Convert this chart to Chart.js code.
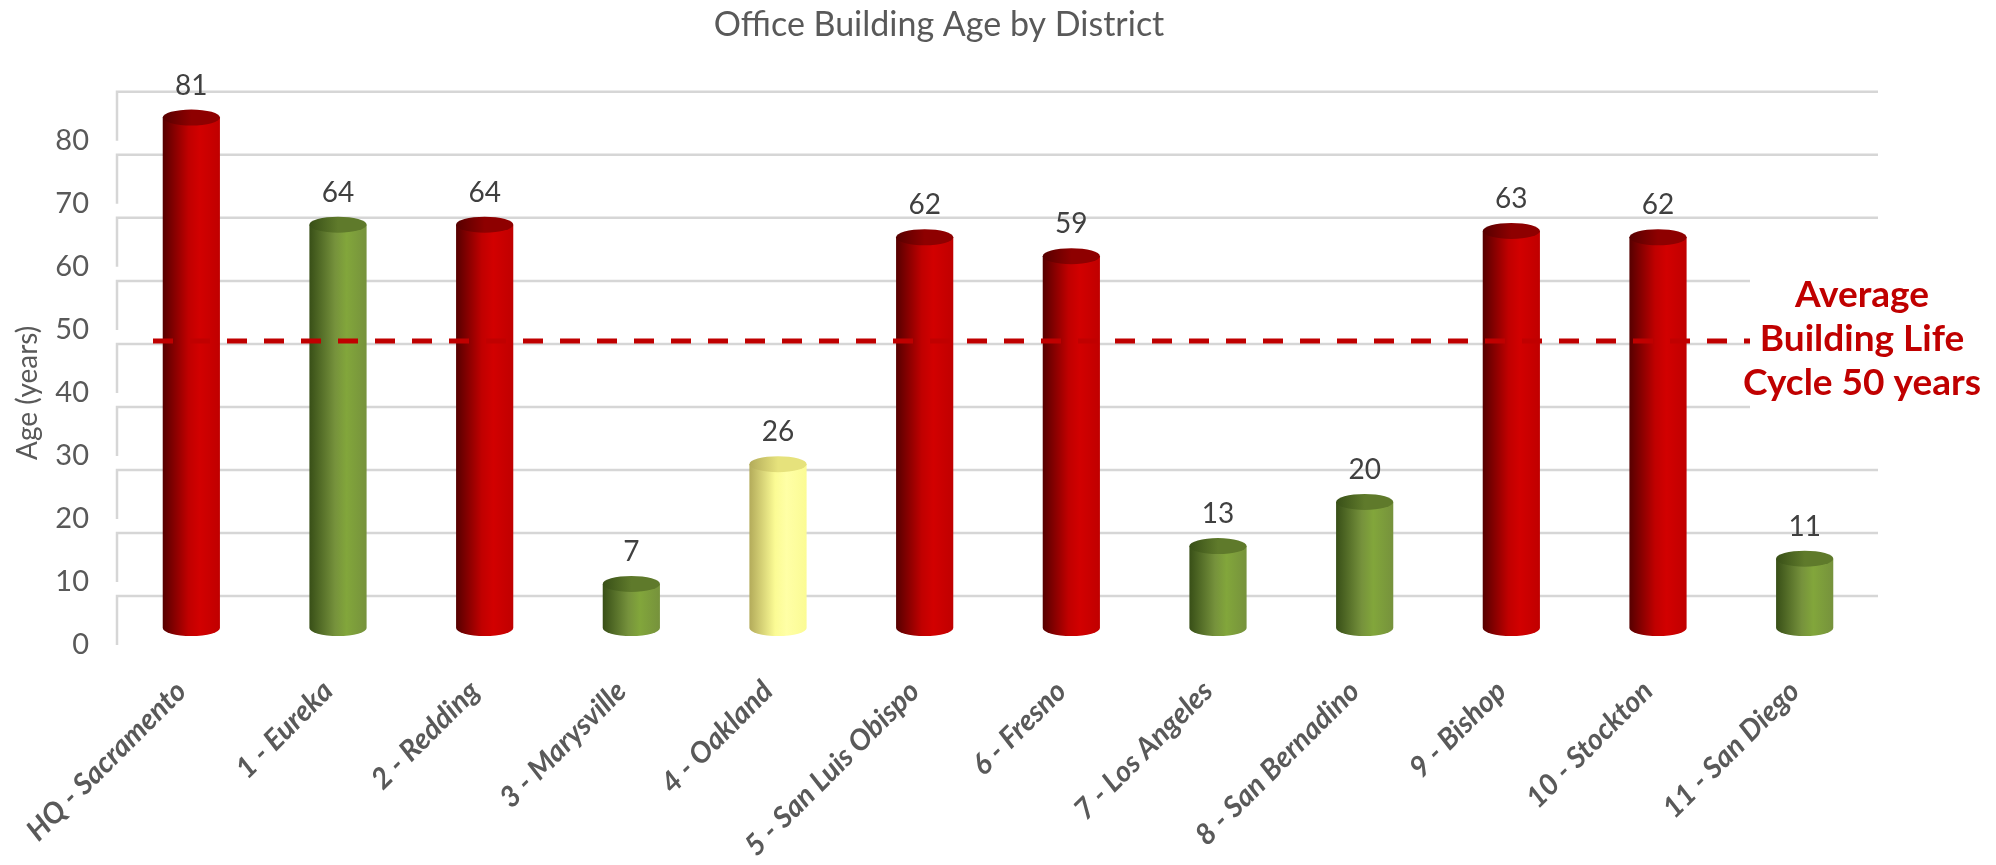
<!DOCTYPE html>
<html>
<head>
<meta charset="utf-8">
<title>Office Building Age by District</title>
<script src="https://cdn.jsdelivr.net/npm/chart.js@4.4.1/dist/chart.umd.min.js"></script>
<style>
  html, body { margin: 0; padding: 0; background: #fff; }
</style>
</head>
<body>
<canvas id="ageChart" width="1996" height="865"></canvas>
<script>
// data
var districts = ["HQ - Sacramento", "1 - Eureka", "2 - Redding", "3 - Marysville", "4 - Oakland",
    "5 - San Luis Obispo", "6 - Fresno", "7 - Los Angeles", "8 - San Bernadino", "9 - Bishop",
    "10 - Stockton", "11 - San Diego"];
var buildingAge = [81, 64, 64, 7, 26, 62, 59, 13, 20, 63, 62, 11];
var rating = ["poor", "good", "poor", "good", "fair", "poor", "poor", "good", "good", "poor", "poor", "good"];
var yTicks = [0, 10, 20, 30, 40, 50, 60, 70, 80];
var avgLifeCycle = 50;
var avgLifeText = ["Average", "Building Life", "Cycle 50 years"];

var palette = {
    poor: { dark: "#560000", main: "#c00000", light: "#d20000", top: "#8e0000" },
    good: { dark: "#384f17", main: "#76923c", light: "#82a63b", top: "#5f7a2b" },
    fair: { dark: "#b3ab5a", main: "#fbfb94", light: "#ffffa6", top: "#e6e27c" }
};
var labelShift = 17;   // tick labels sit in front of the bars (3d look)
var wallDepth = 32;    // back wall gridlines sit behind them
var ellipseRy = 8;

function barGradient(ctx, x, half, colors) {
    var g = ctx.createLinearGradient(x - half, 0, x + half, 0);
    g.addColorStop(0, colors.dark);
    g.addColorStop(0.45, colors.main);
    g.addColorStop(0.65, colors.light);
    g.addColorStop(1, colors.main);
    return g;
}

var wallGrid = {
    id: "wallGrid",
    beforeDatasetsDraw: function (chart) {
        var ctx = chart.ctx, ys = chart.scales.y, a = chart.chartArea;
        var wallX = a.left - 1;
        ctx.save();
        ctx.strokeStyle = "#d6d6d6";
        ctx.lineWidth = 2.5;
        yTicks.forEach(function (v) {
            var py = ys.getPixelForValue(v);
            ctx.beginPath();
            ctx.moveTo(wallX, py + labelShift);
            ctx.lineTo(wallX, py - wallDepth);
            ctx.lineTo(a.right, py - wallDepth);
            ctx.stroke();
        });
        ctx.restore();
    }
};

var cylinders = {
    id: "cylinders",
    afterDatasetsDraw: function (chart) {
        var ctx = chart.ctx, a = chart.chartArea, ys = chart.scales.y;
        var bars = chart.getDatasetMeta(0).data;
        ctx.save();
        bars.forEach(function (bar, i) {
            var colors = palette[rating[i]];
            var half = bar.width / 2;
            // rounded bottom
            ctx.beginPath();
            ctx.ellipse(bar.x, bar.base, half, ellipseRy, 0, 0, Math.PI);
            ctx.fillStyle = barGradient(ctx, bar.x, half, colors);
            ctx.fill();
            // top cap
            ctx.beginPath();
            ctx.ellipse(bar.x, bar.y, half, ellipseRy, 0, 0, Math.PI * 2);
            var tg = ctx.createLinearGradient(bar.x - half, 0, bar.x + half, 0);
            tg.addColorStop(0, colors.dark);
            tg.addColorStop(0.5, colors.top);
            tg.addColorStop(1, colors.top);
            ctx.fillStyle = tg;
            ctx.fill();
            // value label
            ctx.fillStyle = "#404040";
            ctx.font = "28px Lato";
            ctx.textAlign = "center";
            ctx.textBaseline = "middle";
            ctx.fillText(buildingAge[i], bar.x, bar.y - 32);
        });

        // average life cycle line
        var ly = ys.getPixelForValue(avgLifeCycle) + labelShift + 11;
        ctx.strokeStyle = "#c00000";
        ctx.lineWidth = 5;
        ctx.setLineDash([20, 17]);
        ctx.beginPath();
        ctx.moveTo(a.left + 35, ly);
        ctx.lineTo(a.right, ly);
        ctx.stroke();
        ctx.setLineDash([]);

        // annotation box
        var cx = a.right - 16;
        ctx.fillStyle = "#ffffff";
        ctx.fillRect(cx - 112, ly - 76, 260, 146);
        ctx.fillStyle = "#c00000";
        ctx.font = "bold 37px Lato";
        ctx.textAlign = "center";
        ctx.textBaseline = "middle";
        avgLifeText.forEach(function (t, k) {
            ctx.fillText(t, cx, ly - 46 + k * 44);
        });

        // y axis title
        var midY = (ys.getPixelForValue(yTicks[0]) + ys.getPixelForValue(yTicks[yTicks.length - 1])) / 2 + labelShift;
        ctx.translate(28, midY);
        ctx.rotate(-Math.PI / 2);
        ctx.fillStyle = "#595959";
        ctx.font = "28px Lato";
        ctx.fillText("Age (years)", 0, 0);
        ctx.restore();
    }
};

var ctx = document.getElementById("ageChart").getContext("2d");
var ageChart = new Chart(ctx, {
    type: "bar",
    data: {
        labels: districts,
        datasets: [{
            data: buildingAge,
            barPercentage: 0.39,
            categoryPercentage: 1.0,
            borderWidth: 0,
            backgroundColor: function (c) {
                var chart = c.chart;
                if (!chart.chartArea) return palette[rating[c.dataIndex]].main;
                var xs = chart.scales.x;
                var x = xs.getPixelForValue(c.dataIndex);
                var half = xs.width / districts.length * 0.39 / 2;
                return barGradient(chart.ctx, x, half, palette[rating[c.dataIndex]]);
            }
        }]
    },
    options: {
        responsive: false,
        animation: false,
        layout: { padding: { left: 0, right: 118, top: 0, bottom: 0 } },
        plugins: {
            legend: { display: false },
            tooltip: { enabled: false },
            title: {
                display: true,
                text: "Office Building Age by District",
                color: "#595959",
                font: { family: "Lato", size: 34, weight: "normal" },
                padding: { top: 5, bottom: 15 }
            }
        },
        scales: {
            x: {
                offset: true,
                grid: { display: false },
                border: { display: false },
                ticks: {
                    color: "#595959",
                    font: { family: "Lato", size: 29, weight: "bold", style: "italic" },
                    minRotation: 45,
                    maxRotation: 45,
                    autoSkip: false,
                    padding: 38,
                    labelOffset: -10
                },
                afterFit: function (s) {
                    s.height = 237;
                    s.paddingLeft = 0;
                    s.paddingRight = 0;
                }
            },
            y: {
                min: 0,
                max: 90,
                grid: { display: false },
                border: { display: false },
                ticks: {
                    stepSize: 10,
                    color: "#595959",
                    font: { family: "Lato", size: 29 },
                    padding: 21,
                    labelOffset: labelShift,
                    callback: function (v) { return yTicks.indexOf(v) >= 0 ? v : ""; }
                },
                afterFit: function (s) { s.width = 118; }
            }
        }
    },
    plugins: [wallGrid, cylinders]
});
</script>
</body>
</html>
